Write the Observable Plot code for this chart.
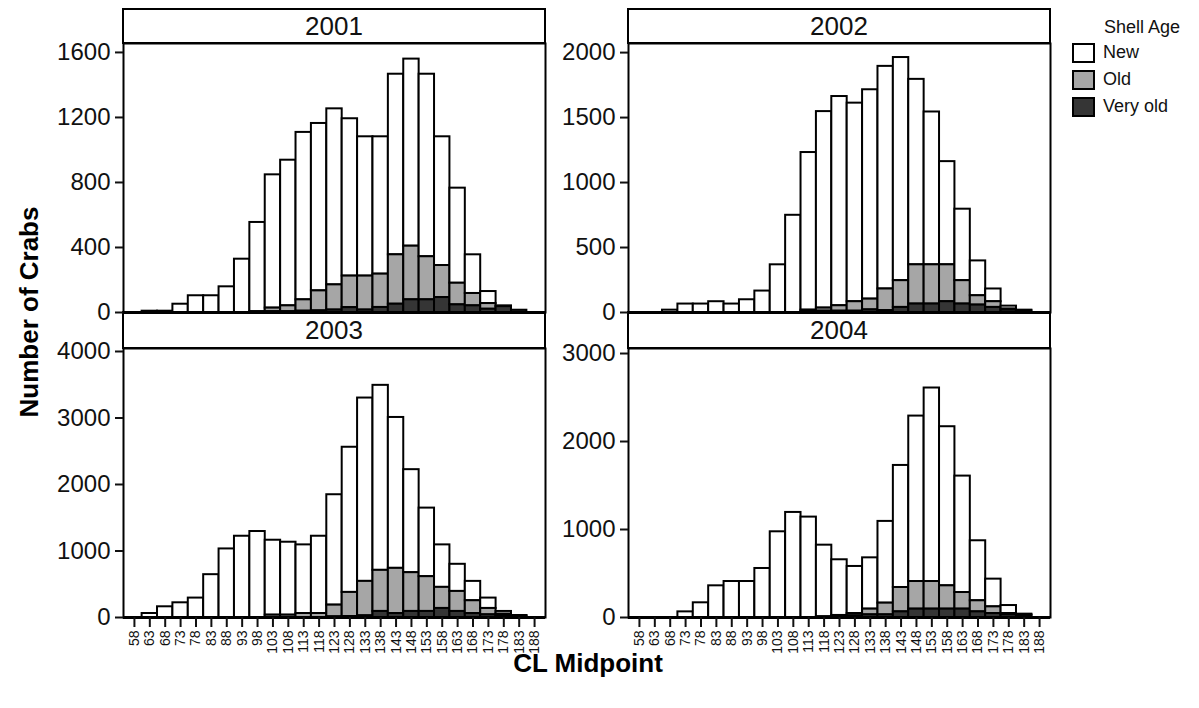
<!DOCTYPE html>
<html>
<head>
<meta charset="utf-8">
<script src="https://cdn.jsdelivr.net/npm/d3@7"></script>
<script src="https://cdn.jsdelivr.net/npm/@observablehq/plot@0.6"></script>
<style>
  body { margin: 0; background: #fff; font-family: "Liberation Sans", Arial, sans-serif; }
  #chart { position: relative; width: 1199px; height: 708px; overflow: hidden; background: #fff; }
  .strip { position: absolute; box-sizing: border-box; border: 2px solid #000; background: #fff;
           text-align: center; font-size: 26px; color: #111; }
  .panel { position: absolute; }
  .ytitle { position: absolute; left: 29px; top: 312px; transform: translate(-50%, -50%) rotate(-90deg);
            font-weight: bold; font-size: 26px; white-space: nowrap; color: #000; }
  .xtitle { position: absolute; left: 0; width: 1176px; top: 648px; text-align: center;
            font-weight: bold; font-size: 26px; color: #000; }
  .legend { position: absolute; left: 1072px; top: 17px; font-size: 18px; color: #111; }
  .legend .ttl { margin-left: 32px; height: 22px; }
  .legend .item { display: flex; align-items: center; height: 27px; }
  .legend .sw { box-sizing: border-box; width: 23px; height: 20px; border: 2px solid #000; margin-right: 8px; }
</style>
</head>
<body>
<div id="chart"></div>
<script>
// ---- data ----
const bins = [58,63,68,73,78,83,88,93,98,103,108,113,118,123,128,133,138,143,148,153,158,163,168,173,178,183,188];
const shellAges = ["New", "Old", "Very old"];
const shellColors = ["#ffffff", "#a6a6a6", "#353535"];

const new2001  = [0,8,8,51,103,103,158,328,549,820,896,1030,1030,1083,968,857,845,1111,1151,1123,792,585,238,74,0,0,0];
const old2001  = [0,0,0,0,0,0,0,0,0,22,36,70,123,155,194,209,205,304,330,265,197,133,76,35,5,0,0];
const vold2001 = [0,0,0,0,0,0,0,0,5,5,5,8,10,15,30,15,31,51,78,78,92,47,41,20,36,14,0];

const new2002  = [0,0,18,65,65,83,65,98,165,367,748,1213,1512,1610,1528,1611,1713,1717,1427,1176,794,550,268,98,23,0,0];
const old2002  = [0,0,0,0,0,0,0,0,0,0,0,8,24,42,73,83,166,206,302,302,284,180,72,44,8,5,0];
const vold2002 = [0,0,0,0,0,0,0,0,0,0,0,10,10,10,10,20,15,39,65,65,83,65,57,39,18,13,0];

const new2003  = [0,60,161,221,292,644,1031,1222,1293,1127,1097,1032,1162,1660,2183,2757,2782,2269,1549,1031,639,408,291,156,41,5,0];
const old2003  = [0,0,0,0,0,0,0,0,0,35,35,60,60,176,362,518,618,679,583,523,317,301,192,96,20,5,0];
const vold2003 = [0,0,0,0,0,0,0,0,0,0,0,0,0,10,15,25,91,60,91,91,136,91,60,40,30,20,0];

const new2004  = [0,0,0,64,167,360,409,409,557,974,1194,1141,814,633,535,583,929,1387,1880,2199,1808,1323,682,315,91,8,0];
const old2004  = [0,0,0,0,0,0,0,0,0,0,0,0,8,12,26,65,133,277,314,314,265,189,126,76,15,7,0];
const vold2004 = [0,0,0,0,0,0,0,0,0,0,0,0,0,11,19,30,30,64,95,95,95,95,64,45,30,23,0];

const ticks2001 = [0,400,800,1200,1600];
const ticks2002 = [0,500,1000,1500,2000];
const ticks2003 = [0,1000,2000,3000,4000];
const ticks2004 = [0,1000,2000,3000];

const years = ["2001","2002","2003","2004"];
const series = {
  "2001": [new2001, old2001, vold2001],
  "2002": [new2002, old2002, vold2002],
  "2003": [new2003, old2003, vold2003],
  "2004": [new2004, old2004, vold2004]
};
const yTicks = {"2001": ticks2001, "2002": ticks2002, "2003": ticks2003, "2004": ticks2004};

// ---- layout (not data) ----
const layout = {
  "2001": {left: 123, stripTop: 8,   stripH: 36, plotTop: 43,  yMax: 1655, bottom: false},
  "2002": {left: 628, stripTop: 8,   stripH: 36, plotTop: 43,  yMax: 2070, bottom: false},
  "2003": {left: 123, stripTop: 311, stripH: 38, plotTop: 348, yMax: 4045, bottom: true},
  "2004": {left: 628, stripTop: 311, stripH: 38, plotTop: 348, yMax: 3057, bottom: true}
};
const plotW = 422, plotH = 269, mL = 80, mR = 10, mT = 12;

const chart = document.getElementById("chart");

// strips first (below the svgs)
for (const yr of years) {
  const L = layout[yr];
  const s = document.createElement("div");
  s.className = "strip";
  s.style.left = (L.left - 1) + "px";
  s.style.top = L.stripTop + "px";
  s.style.width = (plotW + 2) + "px";
  s.style.height = L.stripH + "px";
  s.style.lineHeight = (L.stripH - 4) + "px";
  s.textContent = yr;
  chart.appendChild(s);
}

for (const yr of years) {
  const L = layout[yr];
  const rows = [];
  bins.forEach((b, i) => {
    shellAges.forEach((age, k) => {
      const v = series[yr][k][i];
      if (v > 0) rows.push({bin: b, age, count: v});
    });
  });
  const mB = L.bottom ? 55 : 3;
  const marks = [
    Plot.barY(rows, {x: "bin", y: "count", fill: "age", stroke: "#000", strokeWidth: 2,
                     inset: 0, order: ["Very old", "Old", "New"]}),
    Plot.frame({stroke: "#000", strokeWidth: 2}),
    Plot.ruleY([0], {stroke: "#000", strokeWidth: 3}),
    Plot.axisY({ticks: yTicks[yr], tickSize: 8, tickPadding: 5, fontSize: 24, strokeWidth: 2,
                label: null, tickFormat: d => String(d)})
  ];
  if (L.bottom) {
    marks.push(Plot.axisX({tickRotate: -90, tickSize: 10, tickPadding: 3, fontSize: 14,
                           strokeWidth: 2, label: null}));
  }
  const p = Plot.plot({
    width: mL + plotW + mR,
    height: mT + plotH + mB,
    marginLeft: mL, marginRight: mR, marginTop: mT, marginBottom: mB,
    style: {background: "transparent", fontFamily: "'Liberation Sans', Arial, sans-serif", color: "#111", overflow: "visible"},
    x: {type: "band", domain: bins, paddingInner: 0, paddingOuter: 0.21, round: false, axis: null},
    y: {domain: [0, L.yMax], axis: null},
    color: {domain: shellAges, range: shellColors},
    marks
  });
  p.classList.add("panel");
  p.style.left = (L.left - mL) + "px";
  p.style.top = (L.plotTop - mT) + "px";
  p.style.maxWidth = "none";
  chart.appendChild(p);
}

// axis titles
const yt = document.createElement("div");
yt.className = "ytitle";
yt.textContent = "Number of Crabs";
chart.appendChild(yt);
const xt = document.createElement("div");
xt.className = "xtitle";
xt.textContent = "CL Midpoint";
chart.appendChild(xt);

// legend
const lg = document.createElement("div");
lg.className = "legend";
const ttl = document.createElement("div");
ttl.className = "ttl";
ttl.textContent = "Shell Age";
lg.appendChild(ttl);
shellAges.forEach((a, i) => {
  const it = document.createElement("div");
  it.className = "item";
  const sw = document.createElement("div");
  sw.className = "sw";
  sw.style.background = shellColors[i];
  const tx = document.createElement("span");
  tx.textContent = a;
  it.appendChild(sw);
  it.appendChild(tx);
  lg.appendChild(it);
});
chart.appendChild(lg);
</script>
</body>
</html>
